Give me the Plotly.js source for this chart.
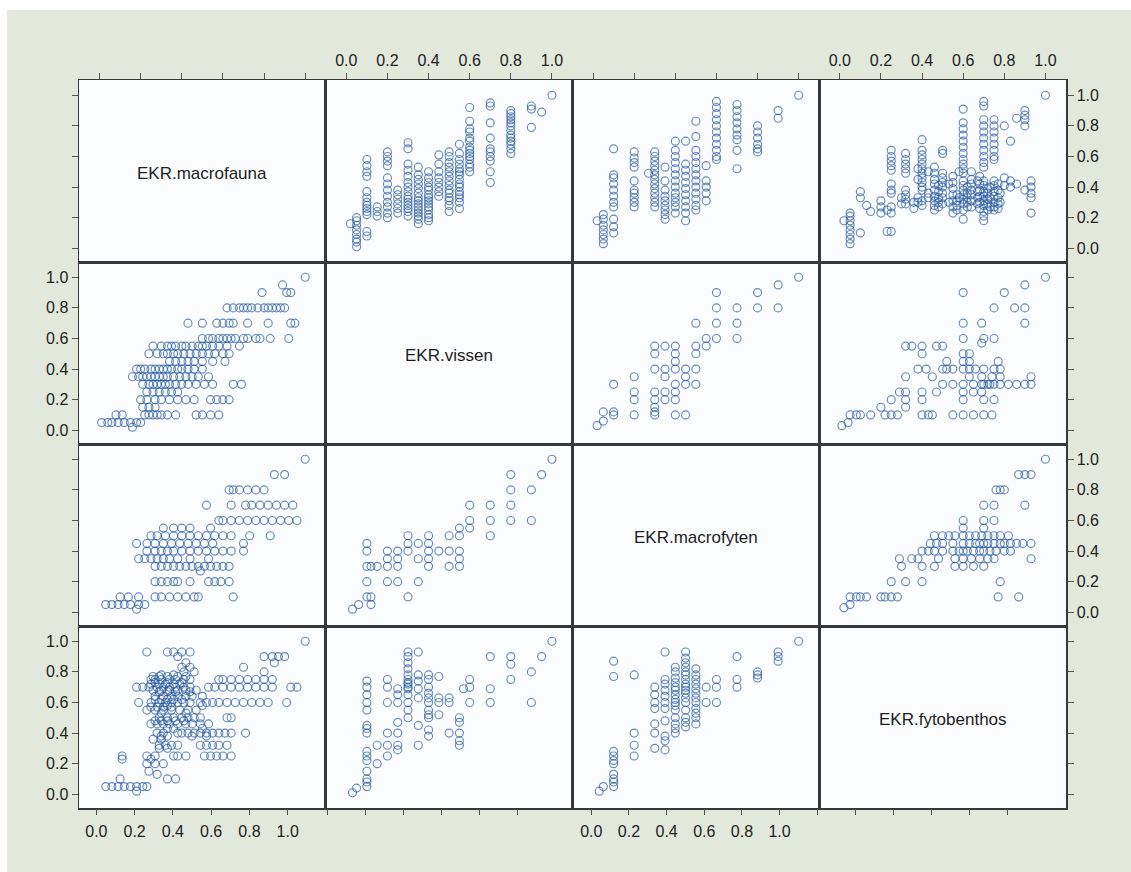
<!DOCTYPE html>
<html>
<head>
<meta charset="utf-8">
<script src="https://cdn.plot.ly/plotly-3.0.1.min.js"></script>
<style>html,body{margin:0;padding:0;background:#ffffff;} #chart{width:1131px;height:872px;}</style>
</head>
<body>
<div id="chart"></div>
<script>
// ---- variables and tick labels ----
const variables = ["EKR.macrofauna", "EKR.vissen", "EKR.macrofyten", "EKR.fytobenthos"];
const tickVals = [0, 0.2, 0.4, 0.6, 0.8, 1.0];
const tickText = ["0.0", "0.2", "0.4", "0.6", "0.8", "1.0"];

// ---- pair macrofauna / vissen (grouped by vissen score) ----
const vissenLevels12 = [1.0, 0.95, 0.9, 0.8, 0.7, 0.6, 0.55, 0.5, 0.45, 0.4, 0.35, 0.3, 0.25, 0.2, 0.15, 0.1, 0.05, 0.02];
const macrofaunaByVissen = [
  [1.0],
  [0.89],
  [0.79, 0.91, 0.93],
  [0.62, 0.65, 0.68, 0.70, 0.72, 0.74, 0.77, 0.80, 0.82, 0.84, 0.86, 0.88, 0.90],
  [0.43, 0.50, 0.57, 0.60, 0.63, 0.65, 0.72, 0.82, 0.93, 0.95],
  [0.50, 0.53, 0.55, 0.58, 0.60, 0.62, 0.64, 0.66, 0.70, 0.72, 0.76, 0.78, 0.83, 0.92],
  [0.26, 0.30, 0.33, 0.35, 0.37, 0.40, 0.42, 0.45, 0.48, 0.50, 0.52, 0.55, 0.58, 0.62, 0.68],
  [0.24, 0.28, 0.31, 0.33, 0.36, 0.38, 0.41, 0.44, 0.47, 0.50, 0.53, 0.56, 0.60, 0.63],
  [0.34, 0.37, 0.40, 0.43, 0.46, 0.50, 0.55, 0.61],
  [0.18, 0.20, 0.22, 0.25, 0.27, 0.29, 0.31, 0.33, 0.35, 0.38, 0.40, 0.43, 0.46, 0.50],
  [0.16, 0.19, 0.21, 0.23, 0.25, 0.27, 0.29, 0.31, 0.33, 0.36, 0.39, 0.42, 0.45, 0.48, 0.53],
  [0.21, 0.24, 0.26, 0.28, 0.30, 0.32, 0.34, 0.37, 0.40, 0.43, 0.47, 0.51, 0.55, 0.65, 0.69],
  [0.23, 0.26, 0.29, 0.32, 0.35, 0.38],
  [0.20, 0.23, 0.27, 0.30, 0.34, 0.38, 0.42, 0.46, 0.54, 0.57, 0.60, 0.63],
  [0.21, 0.24, 0.27],
  [0.08, 0.11, 0.22, 0.24, 0.26, 0.28, 0.30, 0.33, 0.37, 0.47, 0.50, 0.54, 0.58],
  [0.01, 0.04, 0.06, 0.09, 0.12, 0.15, 0.18, 0.20],
  [0.16]
];

// ---- pair macrofauna / macrofyten (grouped by macrofyten score) ----
const macrofytenLevels13 = [0.02, 0.05, 0.1, 0.2, 0.27, 0.3, 0.35, 0.4, 0.45, 0.5, 0.55, 0.6, 0.7, 0.8, 0.9, 1.0];
const macrofaunaByMacrofyten = [
  [0.18],
  [0.03, 0.06, 0.09, 0.12, 0.15, 0.19, 0.22],
  [0.10, 0.14, 0.19, 0.27, 0.30, 0.34, 0.38, 0.42, 0.46, 0.48, 0.65],
  [0.27, 0.30, 0.33, 0.36, 0.38, 0.44, 0.53, 0.56, 0.59, 0.63],
  [0.49],
  [0.27, 0.30, 0.33, 0.36, 0.39, 0.42, 0.45, 0.48, 0.51, 0.54, 0.57, 0.60, 0.63],
  [0.19, 0.22, 0.25, 0.28, 0.31, 0.34, 0.38, 0.44, 0.53],
  [0.23, 0.27, 0.30, 0.33, 0.36, 0.40, 0.44, 0.48, 0.52, 0.56, 0.60, 0.64, 0.70],
  [0.18, 0.23, 0.27, 0.31, 0.35, 0.39, 0.43, 0.47, 0.51, 0.55, 0.70],
  [0.25, 0.28, 0.32, 0.36, 0.40, 0.44, 0.48, 0.52, 0.56, 0.60, 0.64, 0.73, 0.83],
  [0.31, 0.36, 0.40, 0.44, 0.54],
  [0.58, 0.60, 0.64, 0.68, 0.72, 0.76, 0.80, 0.84, 0.88, 0.92, 0.96],
  [0.52, 0.64, 0.71, 0.74, 0.78, 0.82, 0.86, 0.90, 0.94],
  [0.63, 0.65, 0.68, 0.72, 0.76, 0.80],
  [0.85, 0.90],
  [1.0]
];

// ---- pair macrofauna / fytobenthos (grouped by fytobenthos score) ----
const fytobenthosLevels14 = [0.02, 0.05, 0.10, 0.13, 0.15, 0.20, 0.23, 0.25, 0.30, 0.32, 0.36, 0.38, 0.40, 0.43, 0.46, 0.48, 0.50, 0.53, 0.55, 0.57, 0.58, 0.60, 0.62, 0.64, 0.67, 0.68, 0.70, 0.72, 0.73, 0.75, 0.77, 0.78, 0.80, 0.83, 0.86, 0.90, 0.93, 1.0];
const macrofaunaByFytobenthos = [
  [0.18],
  [0.03, 0.06, 0.09, 0.12, 0.15, 0.18, 0.21, 0.23],
  [0.10, 0.33, 0.37],
  [0.28],
  [0.24],
  [0.23, 0.27, 0.31],
  [0.11, 0.25],
  [0.11, 0.23, 0.27, 0.36, 0.38, 0.42, 0.51, 0.54, 0.57, 0.60, 0.64],
  [0.29, 0.33],
  [0.29, 0.32, 0.35, 0.38, 0.49, 0.52, 0.55, 0.58, 0.62],
  [0.26, 0.30],
  [0.30, 0.33, 0.45, 0.52],
  [0.28, 0.31, 0.38, 0.40, 0.43, 0.46, 0.49, 0.52, 0.55, 0.58, 0.61, 0.64, 0.71],
  [0.33, 0.36, 0.50],
  [0.25, 0.28, 0.31, 0.34, 0.38, 0.42, 0.45, 0.49, 0.53],
  [0.27, 0.30, 0.33, 0.37, 0.41],
  [0.29, 0.33, 0.36, 0.40, 0.43, 0.46, 0.49, 0.62, 0.64],
  [0.30, 0.42],
  [0.23, 0.27, 0.31, 0.35, 0.39, 0.43, 0.47],
  [0.25, 0.28, 0.31, 0.35],
  [0.33, 0.50],
  [0.19, 0.25, 0.29, 0.32, 0.35, 0.38, 0.41, 0.44, 0.49, 0.52, 0.55, 0.58, 0.62, 0.66, 0.70, 0.74, 0.78, 0.82, 0.91],
  [0.27, 0.30, 0.33, 0.36, 0.40],
  [0.27, 0.31, 0.35, 0.38, 0.42, 0.45, 0.50],
  [0.29, 0.33, 0.37, 0.44],
  [0.26, 0.30, 0.34, 0.38, 0.42, 0.47],
  [0.18, 0.21, 0.24, 0.28, 0.31, 0.34, 0.37, 0.41, 0.44, 0.53, 0.56, 0.60, 0.64, 0.68, 0.72, 0.76, 0.80, 0.84, 0.93, 0.96],
  [0.25, 0.29, 0.32, 0.36, 0.39],
  [0.27, 0.33, 0.40],
  [0.25, 0.27, 0.30, 0.34, 0.37, 0.41, 0.44, 0.58, 0.60, 0.64, 0.68, 0.72, 0.76, 0.80, 0.84],
  [0.26, 0.29, 0.33, 0.38, 0.42],
  [0.30, 0.36],
  [0.41, 0.46, 0.80],
  [0.40, 0.44, 0.70],
  [0.42, 0.85],
  [0.38, 0.80, 0.84, 0.87, 0.90],
  [0.23, 0.33, 0.36, 0.40, 0.44],
  [1.0]
];

// ---- pair vissen / macrofyten (grouped by vissen score) ----
const vissenLevels23 = [1.0, 0.95, 0.9, 0.8, 0.7, 0.6, 0.55, 0.5, 0.45, 0.4, 0.35, 0.3, 0.25, 0.2, 0.15, 0.12, 0.1, 0.06, 0.03];
const macrofytenByVissen = [
  [1.0],
  [0.9],
  [0.6, 0.8],
  [0.6, 0.7, 0.8, 0.9],
  [0.5, 0.6, 0.7],
  [0.55, 0.6, 0.7],
  [0.3, 0.35, 0.4, 0.5, 0.55],
  [0.3, 0.4, 0.5],
  [0.4],
  [0.3, 0.35, 0.4, 0.45, 0.5],
  [0.2, 0.35, 0.45],
  [0.1, 0.4, 0.45, 0.5],
  [0.2, 0.3, 0.35, 0.4],
  [0.2, 0.3, 0.35, 0.4],
  [0.3],
  [0.05, 0.1, 0.3],
  [0.1, 0.2, 0.3, 0.4, 0.45],
  [0.05],
  [0.02]
];

// ---- pair vissen / fytobenthos (grouped by vissen score) ----
const vissenLevels24 = [1.0, 0.95, 0.9, 0.8, 0.7, 0.6, 0.57, 0.55, 0.5, 0.45, 0.4, 0.35, 0.3, 0.25, 0.2, 0.15, 0.1, 0.05, 0.03];
const fytobenthosByVissen = [
  [1.0],
  [0.90],
  [0.60, 0.80],
  [0.75, 0.85, 0.90],
  [0.60, 0.69, 0.90],
  [0.60, 0.70, 0.75],
  [0.69],
  [0.32, 0.35, 0.40, 0.47, 0.50],
  [0.40, 0.60, 0.63],
  [0.52, 0.60, 0.63, 0.77],
  [0.38, 0.42, 0.50, 0.52, 0.55, 0.60, 0.63, 0.66, 0.70, 0.75, 0.78],
  [0.32, 0.45, 0.63, 0.69, 0.74, 0.78, 0.93],
  [0.50, 0.55, 0.60, 0.65, 0.69, 0.70, 0.72, 0.73, 0.75, 0.78, 0.82, 0.86, 0.90, 0.93],
  [0.29, 0.32, 0.40, 0.47, 0.60, 0.65, 0.69],
  [0.25, 0.32, 0.40, 0.60, 0.70, 0.75],
  [0.20, 0.32],
  [0.05, 0.08, 0.10, 0.15, 0.22, 0.25, 0.28, 0.40, 0.43, 0.45, 0.55, 0.60, 0.65, 0.70, 0.74],
  [0.04],
  [0.01]
];

// ---- pair macrofyten / fytobenthos (grouped by macrofyten score) ----
const macrofytenLevels34 = [1.0, 0.9, 0.8, 0.7, 0.6, 0.55, 0.5, 0.45, 0.4, 0.35, 0.3, 0.2, 0.1, 0.05, 0.03];
const fytobenthosByMacrofyten = [
  [1.0],
  [0.87, 0.90, 0.93],
  [0.76, 0.78, 0.80],
  [0.70, 0.75, 0.90],
  [0.60, 0.70, 0.75],
  [0.60, 0.70],
  [0.46, 0.50, 0.53, 0.56, 0.60, 0.63, 0.66, 0.69, 0.72, 0.75, 0.78, 0.82],
  [0.44, 0.47, 0.50, 0.55, 0.60, 0.63, 0.66, 0.68, 0.70, 0.72, 0.75, 0.78, 0.80, 0.83, 0.86, 0.89, 0.93],
  [0.40, 0.43, 0.46, 0.50, 0.55, 0.58, 0.60, 0.62, 0.65, 0.68, 0.70, 0.73, 0.76, 0.80, 0.83],
  [0.29, 0.35, 0.38, 0.48, 0.56, 0.60, 0.64, 0.68, 0.72, 0.75, 0.93],
  [0.30, 0.40, 0.46, 0.56, 0.60, 0.65, 0.70],
  [0.25, 0.32, 0.40, 0.78],
  [0.05, 0.08, 0.10, 0.13, 0.20, 0.22, 0.25, 0.28, 0.77, 0.87],
  [0.05],
  [0.02]
];

// ---- build ----
const pairDefs = [
  {levelVar: 1, valueVar: 0, levels: vissenLevels12, groups: macrofaunaByVissen},
  {levelVar: 2, valueVar: 0, levels: macrofytenLevels13, groups: macrofaunaByMacrofyten},
  {levelVar: 3, valueVar: 0, levels: fytobenthosLevels14, groups: macrofaunaByFytobenthos},
  {levelVar: 1, valueVar: 2, levels: vissenLevels23, groups: macrofytenByVissen},
  {levelVar: 1, valueVar: 3, levels: vissenLevels24, groups: fytobenthosByVissen},
  {levelVar: 2, valueVar: 3, levels: macrofytenLevels34, groups: fytobenthosByMacrofyten}
];

function suffix(k) { return k === 1 ? '' : String(k); }
function panelIndex(r, c) { return r * 4 + c + 1; }

const FONT = '"Liberation Sans", Arial, Helvetica, sans-serif';
const markerStyle = {
  symbol: 'circle-open', size: 8,
  color: 'rgba(34,86,158,0.68)',
  line: {width: 1.15}
};

const traces = [];
pairDefs.forEach(p => {
  const vals = {};
  const L = [], V = [];
  p.levels.forEach((lv, g) => p.groups[g].forEach(v => { L.push(lv); V.push(v); }));
  vals[p.levelVar] = L;
  vals[p.valueVar] = V;
  const a = Math.min(p.levelVar, p.valueVar), b = Math.max(p.levelVar, p.valueVar);
  [[a, b], [b, a]].forEach(([r, c]) => {
    const k = panelIndex(r, c);
    traces.push({
      type: 'scatter', mode: 'markers',
      x: vals[c], y: vals[r],
      xaxis: 'x' + suffix(k), yaxis: 'y' + suffix(k),
      marker: markerStyle, showlegend: false, hoverinfo: 'skip'
    });
  });
});

// empty traces so diagonal panels and bottom scale axes exist
for (let d = 0; d < 4; d++) {
  const k = panelIndex(d, d);
  traces.push({type: 'scatter', mode: 'markers', x: [], y: [], xaxis: 'x' + suffix(k), yaxis: 'y' + suffix(k), showlegend: false, hoverinfo: 'skip'});
}
for (let c = 0; c < 4; c++) {
  traces.push({type: 'scatter', mode: 'markers', x: [], y: [], xaxis: 'x' + (17 + c), yaxis: 'y21', showlegend: false, hoverinfo: 'skip'});
}

const frame = {showline: true, mirror: true, linecolor: '#383838', linewidth: 1.5, showgrid: false, zeroline: false, fixedrange: true};
const tickStyle = {tickvals: tickVals, ticktext: tickText, ticklen: 6, tickwidth: 1, tickcolor: '#555555',
  tickfont: {family: FONT, size: 16, color: '#222222'}};

const layout = {
  width: 1131, height: 872,
  margin: {l: 79, r: 65, t: 80, b: 64, pad: 0},
  paper_bgcolor: '#e2e8dc',
  plot_bgcolor: 'rgba(0,0,0,0)',
  font: {family: FONT, color: '#2e2e2e'},
  showlegend: false,
  hovermode: false,
  annotations: [],
  shapes: [
    {type: 'rect', xref: 'paper', yref: 'paper', x0: 0, x1: 1, y0: 0, y1: 1, fillcolor: '#fbfcfe', line: {width: 0}, layer: 'below'},
    {type: 'rect', xref: 'paper', yref: 'paper', x0: -0.1, x1: 1.1, y0: 1.0962, y1: 1.12, fillcolor: '#ffffff', line: {width: 0}, layer: 'below'},
    {type: 'rect', xref: 'paper', yref: 'paper', x0: -0.1, x1: -0.0729, y0: -0.1, y1: 1.12, fillcolor: '#ffffff', line: {width: 0}, layer: 'below'}
  ]
};

for (let r = 0; r < 4; r++) {
  for (let c = 0; c < 4; c++) {
    const k = panelIndex(r, c);
    const xa = Object.assign({}, frame, {
      domain: [c / 4, (c + 1) / 4], range: [-0.1, 1.1], anchor: 'y' + suffix(k)
    });
    if (r === 0) {
      Object.assign(xa, tickStyle, {side: 'top', ticks: 'outside', showticklabels: c % 2 === 1});
    } else {
      Object.assign(xa, {ticks: '', showticklabels: false});
    }
    const ya = Object.assign({}, frame, {
      domain: [1 - (r + 1) / 4, 1 - r / 4], range: [-0.09, 1.1], anchor: 'x' + suffix(k)
    });
    if (c === 0) {
      Object.assign(ya, tickStyle, {side: 'left', ticks: 'outside', showticklabels: r % 2 === 1});
    } else if (c === 3) {
      Object.assign(ya, tickStyle, {side: 'right', ticks: 'outside', showticklabels: r % 2 === 0});
    } else {
      Object.assign(ya, {ticks: '', showticklabels: false});
    }
    layout['xaxis' + suffix(k)] = xa;
    layout['yaxis' + suffix(k)] = ya;
    if (r === c) {
      layout.annotations.push({
        xref: 'x' + suffix(k) + ' domain', yref: 'y' + suffix(k) + ' domain',
        x: 0.5, y: 0.485, xanchor: 'center', yanchor: 'middle', showarrow: false,
        text: variables[r], font: {family: FONT, size: 17, color: '#1e1e1e'}
      });
    }
  }
}

// thin helper y axis at the bottom edge, carrying the bottom scale axes as placed in the original figure
layout.yaxis21 = {domain: [0, 0.002], range: [0, 1], visible: false, fixedrange: true, anchor: 'x17'};
const bottomDomains = [[0.0172, 0.2118], [0.2513, 0.4448], [0.5187, 0.7102], [0.7477, 0.9412]];
for (let c = 0; c < 4; c++) {
  layout['xaxis' + (17 + c)] = Object.assign({}, tickStyle, {
    domain: bottomDomains[c], range: [-0.002, 1.002], anchor: 'y21', side: 'bottom',
    ticks: 'outside', showticklabels: c % 2 === 0, ticklabelstandoff: 3,
    showline: false, showgrid: false, zeroline: false, fixedrange: true
  });
}

Plotly.newPlot('chart', traces, layout, {staticPlot: true, displayModeBar: false});
</script>
</body>
</html>
